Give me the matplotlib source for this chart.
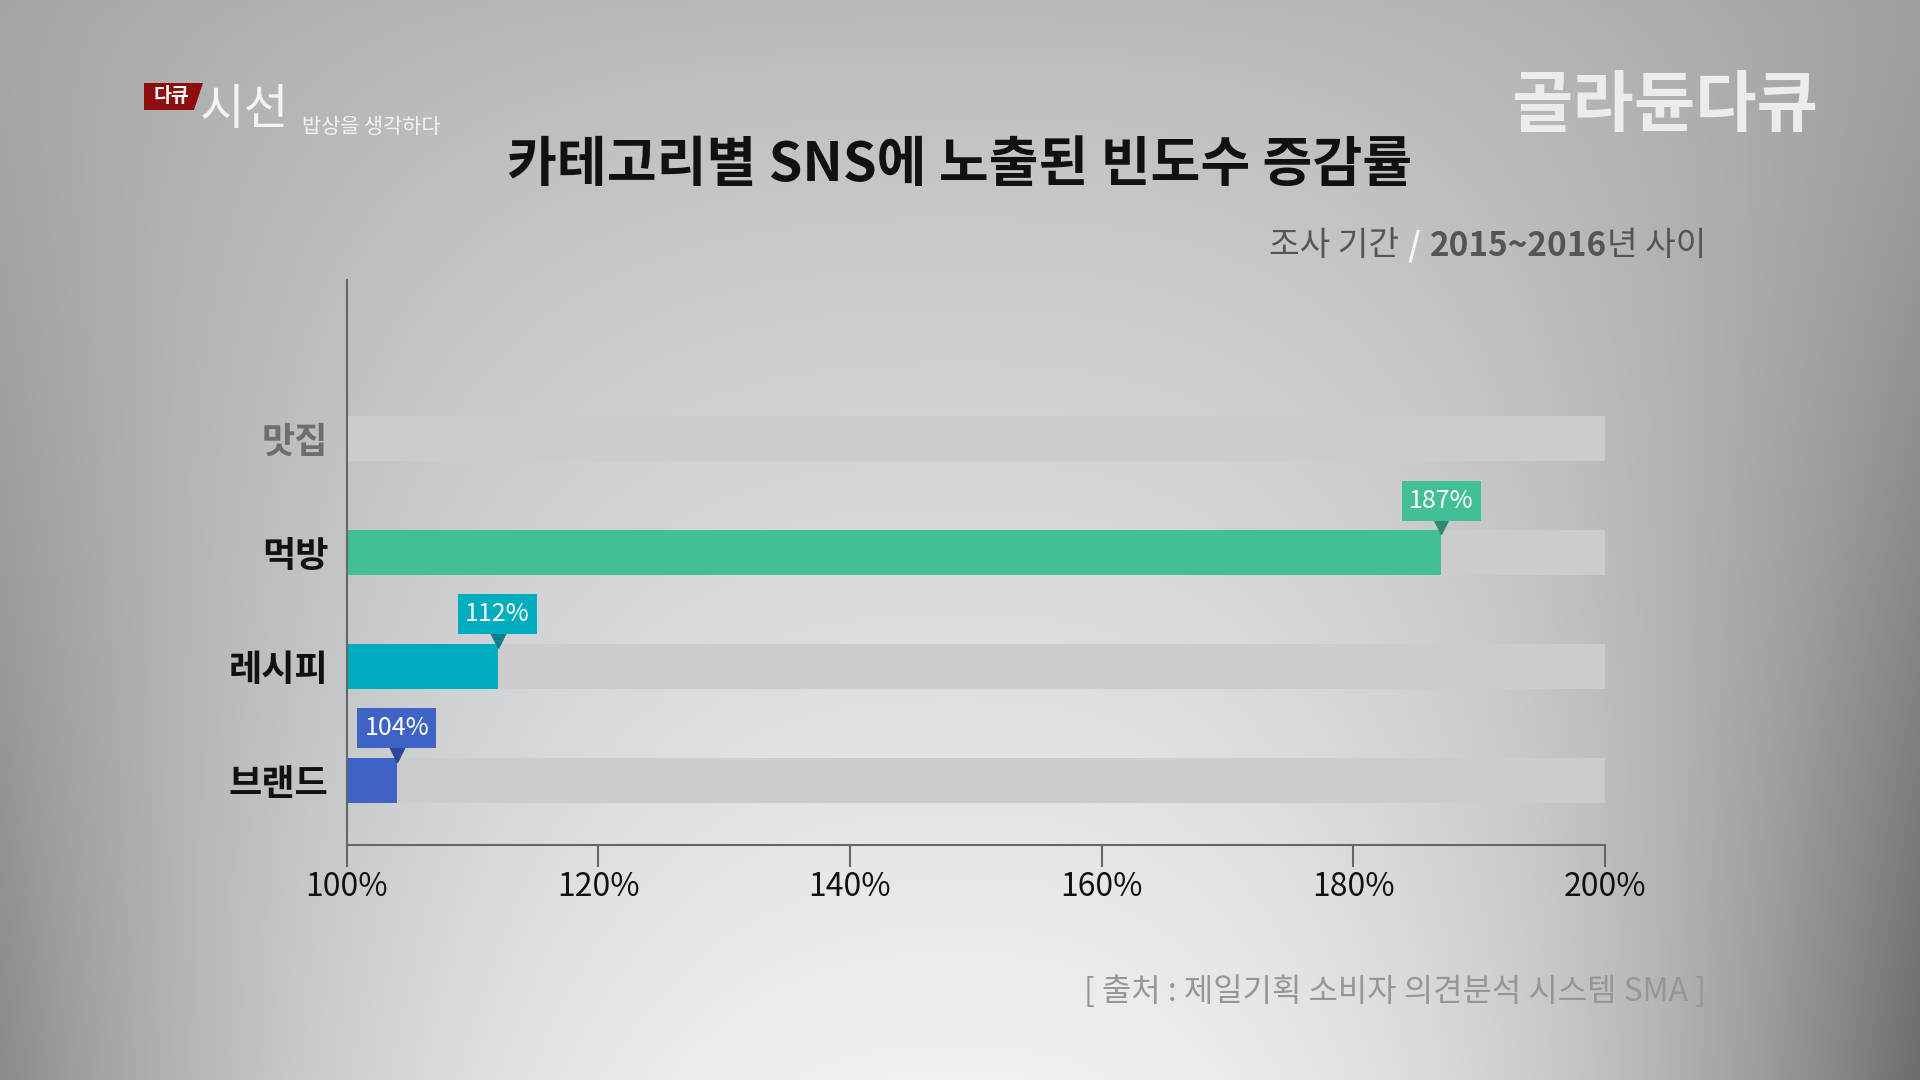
import numpy as np
import matplotlib
matplotlib.use("Agg")
import matplotlib.pyplot as plt
from matplotlib.patches import Polygon
import matplotlib.transforms as mtransforms

plt.rcParams['font.family'] = ['Noto Sans CJK KR', 'DejaVu Sans']

# ---------------- data ----------------
categories = ['맛집', '먹방', '레시피', '브랜드']
values = [np.nan, 187, 112, 104]          # 맛집 has no value shown
value_labels = ['', '187%', '112%', '104%']
bar_colors = ['#43bf98', '#43bf98', '#00adbe', '#3f63c4']
tri_colors = ['#2f8a72', '#2f8a72', '#0b7f8b', '#2c4896']
label_colors = ['#6e6e6e', '#111111', '#111111', '#111111']
x_ticks = [100, 120, 140, 160, 180, 200]
x_tick_labels = ['100%', '120%', '140%', '160%', '180%', '200%']
x_min, x_max = 100, 200

title = '카테고리별 SNS에 노출된 빈도수 증감률'
source = '[ 출처 : 제일기획 소비자 의견분석 시스템 SMA ]'

W, H = 1920, 1080
fig = plt.figure(figsize=(19.2, 10.8), dpi=100)

def fx(x):
    return x / W

def fy(y):
    return 1 - y / H

# ---------------- background gradient ----------------
bg = fig.add_axes([0, 0, 1, 1], zorder=0)
h, w = 270, 480
yy, xx = np.mgrid[0:1:complex(0, h), 0:1:complex(0, w)]
base = 0.73 + 0.22 * yy ** 0.8
edge = (np.abs(xx - 0.5) / 0.5) ** 2.5
edge = np.where(xx > 0.5, edge * 1.3, edge)
v = base - edge * (0.08 + 0.32 * yy)
img = np.dstack([v * 0.985, v * 0.992, v * 1.0])
img = np.clip(img, 0, 1)
bg.imshow(img, aspect='auto', extent=[0, 1, 0, 1], interpolation='bilinear')
bg.set_xlim(0, 1)
bg.set_ylim(0, 1)
bg.axis('off')

# ---------------- main axes ----------------
ax_left, ax_right = 346.5, 1605
ax_top, ax_bottom = 280, 845
ax = fig.add_axes([fx(ax_left), fy(ax_bottom), (ax_right - ax_left) / W,
                   (ax_bottom - ax_top) / H], zorder=2)
ax.set_facecolor('none')

n = len(categories)
ypos = np.arange(n)[::-1]          # first category on top
bar_h = 0.395

ax.barh(ypos, [x_max - x_min] * n, left=x_min, height=bar_h,
        color='#cccccc', zorder=1)
for i in range(n):
    if np.isnan(values[i]):
        continue
    ax.barh(ypos[i], values[i] - x_min, left=x_min, height=bar_h,
            color=bar_colors[i], zorder=2)
    # pointer triangle
    tri_tr = mtransforms.offset_copy(ax.transData, fig=fig, x=0, y=6, units='dots')
    ax.plot([values[i]], [ypos[i] + bar_h / 2], marker='v', markersize=14,
            color=tri_colors[i], transform=tri_tr, zorder=4, clip_on=False)
    ax.annotate(value_labels[i], xy=(values[i], ypos[i] + bar_h / 2),
                xytext=(0, 21), textcoords='offset points',
                ha='center', va='center', fontsize=18, color='white',
                bbox=dict(boxstyle='square,pad=0.28', fc=bar_colors[i], ec='none'),
                zorder=5, annotation_clip=False)

ax.set_xlim(x_min, x_max)
ax.set_ylim(-0.57, 4.39)
ax.set_xticks(x_ticks)
ax.set_xticklabels(x_tick_labels)
ax.set_yticks(ypos)
ax.set_yticklabels(categories)
for lab, c in zip(ax.get_yticklabels(), label_colors):
    lab.set_color(c)
    lab.set_fontweight('bold')

ax.tick_params(axis='x', length=16, width=1.5, color='#666666', pad=3,
               labelsize=23, labelcolor='#111111', direction='out')
ax.tick_params(axis='y', length=0, pad=13, labelsize=26)
for s in ['top', 'right']:
    ax.spines[s].set_visible(False)
for s in ['left', 'bottom']:
    ax.spines[s].set_color('#666666')
    ax.spines[s].set_linewidth(1.5)

# ---------------- title ----------------
fig.text(0.5, fy(166), title, ha='center', va='center', fontsize=39,
         fontweight='bold', color='#111111')

# ---------------- subtitle ----------------
renderer = fig.canvas.get_renderer()
pieces = [('조사 기간', '#555555', 'normal'),
          ('/', '#f5f5f5', 'bold'),
          ('2015~2016', '#555555', 'bold'),
          ('년 사이', '#555555', 'normal')]
gaps = [9, 9, 0]
texts = []
for s, c, wgt in pieces:
    texts.append(fig.text(0, fy(246), s, ha='left', va='center', fontsize=24,
                          color=c, fontweight=wgt))
widths = [t.get_window_extent(renderer).width for t in texts]
x = 1706 - sum(widths) - sum(gaps)
for i, t in enumerate(texts):
    t.set_x(fx(x))
    x += widths[i] + (gaps[i] if i < len(gaps) else 0)

# ---------------- source ----------------
fig.text(fx(1706), fy(992), source, ha='right', va='center', fontsize=23,
         fontweight='medium', color='#969696')

# ---------------- logos ----------------
red = Polygon([[fx(144), fy(83)], [fx(203), fy(83)], [fx(194), fy(110)], [fx(144), fy(110)]],
              closed=True, transform=fig.transFigure, fc='#8e0e0e', ec='none', zorder=3)
fig.patches.append(red)
fig.text(fx(171), fy(97), '다큐', ha='center', va='center', fontsize=14,
         fontweight='bold', color='white', zorder=4)
fig.text(fx(200), fy(110), '시선', ha='left', va='center', fontsize=35,
         fontweight='light', color='#f4f4f4', zorder=4)
fig.text(fx(302), fy(127), '밥상을 생각하다', ha='left', va='center', fontsize=15,
         color='#f2f2f2', zorder=4)
fig.text(fx(1818), fy(107), '골라듄다큐', ha='right', va='center', fontsize=48,
         fontweight='black', color='#ececec', zorder=4)

fig.savefig('out.png', dpi=100)
